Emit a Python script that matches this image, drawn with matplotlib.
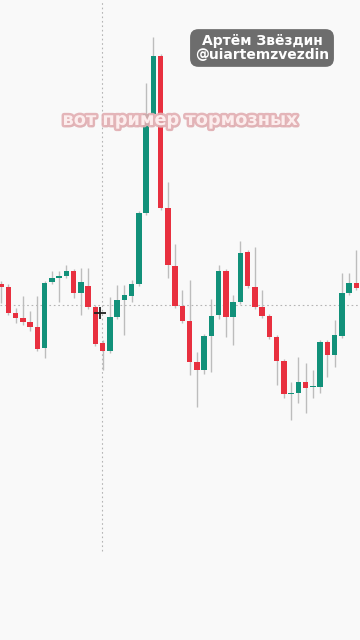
#!/usr/bin/env python3
"""
Candlestick screenshot recreation: sharp pump then dump, with overlay caption.
Saves out.png (360x640).
"""
import matplotlib
matplotlib.use("Agg")
import matplotlib.pyplot as plt
import matplotlib.patheffects as pe
import numpy as np

# OHLC (arbitrary price units)
opens = [356, 353, 327, 322, 318, 313, 292, 358, 362, 364,
         369, 347, 354, 333, 297, 289, 323, 340, 344, 356,
         427, 526, 584, 432, 374, 334, 319, 278, 270, 304,
         325, 369, 323, 338, 388, 353, 333, 324, 303, 279,
         246, 247, 258, 253, 253, 298, 285, 304, 347, 357]
highs = [359, 356, 332, 344, 329, 344, 359, 369, 369, 375,
         371, 372, 372, 335, 300, 343, 355, 355, 360, 429,
         557, 603, 586, 458, 396, 350, 360, 288, 306, 341,
         375, 371, 345, 399, 390, 393, 350, 326, 305, 281,
         258, 283, 277, 270, 300, 300, 320, 367, 367, 390]
lows = [337, 325, 317, 315, 309, 289, 282, 356, 338, 362,
        342, 325, 331, 294, 270, 287, 321, 305, 338, 354,
        425, 524, 430, 362, 332, 317, 265, 233, 266, 268,
        321, 303, 295, 336, 352, 331, 322, 301, 255, 242,
        220, 237, 227, 242, 247, 263, 273, 302, 345, 350]
closes = [353, 327, 322, 318, 313, 291, 357, 362, 364, 369,
          347, 358, 333, 296, 289, 323, 340, 345, 356, 427,
          526, 584, 432, 375, 334, 319, 278, 270, 304, 324,
          369, 323, 338, 387, 354, 333, 324, 303, 279, 246,
          246, 258, 252, 253, 298, 285, 305, 347, 357, 352]

caption = "вот пример тормозных"
author = "Артём Звёздин\n@uiartemzvezdin"

UP = '#12917a'
DOWN = '#e8303f'
BG = '#f9f9f9'

o = np.array(opens, float)
h = np.array(highs, float)
l = np.array(lows, float)
c = np.array(closes, float)
idx = np.arange(len(o))
colors = [UP if cc >= oo else DOWN for oo, cc in zip(o, c)]

fig = plt.figure(figsize=(3.6, 6.4), dpi=100, facecolor=BG)
ax = fig.add_axes([0, 0, 1, 1])
ax.set_facecolor(BG)
ax.set_xlim(-0.14, -0.14 + 360 / 7.25)
ax.set_ylim(0, 640)
ax.axis('off')

# crosshair lines
ax.axhline(335, color='#b5b5b5', lw=0.8, ls=(0, (1.5, 2.5)), zorder=1)
ax.vlines(13.93, 89, 640, color='#b5b5b5', lw=0.8, ls=(0, (1.5, 2.5)), zorder=1)

# wicks then bodies
ax.vlines(idx, l, h, color='#bdbdbd', lw=1.0, zorder=2)
body_lo = np.minimum(o, c)
body_h = np.maximum(np.abs(c - o), 1.2)
ax.bar(idx, body_h, bottom=body_lo, width=0.76, color=colors,
       edgecolor='none', zorder=3)

# mouse cursor
ax.plot(13.66, 327, marker='+', color='#222222', markersize=9, mew=1.3, zorder=5)

# caption overlay
fig.text(0.5, 1 - 120 / 640, caption, ha='center', va='center',
         fontsize=12.8, fontweight='bold', color='#fff4f4', alpha=0.9,
         path_effects=[pe.withSimplePatchShadow(offset=(1, -1.5), shadow_rgbFace='#999999', alpha=0.35),
                       pe.withStroke(linewidth=3.5, foreground='#e2aeb2')],
         zorder=6)

# author badge
fig.text(262 / 360, 1 - 48 / 640, author, ha='center', va='center',
         fontsize=10, fontweight='bold', color='white', linespacing=1.0,
         bbox=dict(boxstyle='round,pad=0.35,rounding_size=0.6',
                   fc='#6d6d6d', ec='none'),
         zorder=7)

fig.savefig('out.png', dpi=100, facecolor=BG)
